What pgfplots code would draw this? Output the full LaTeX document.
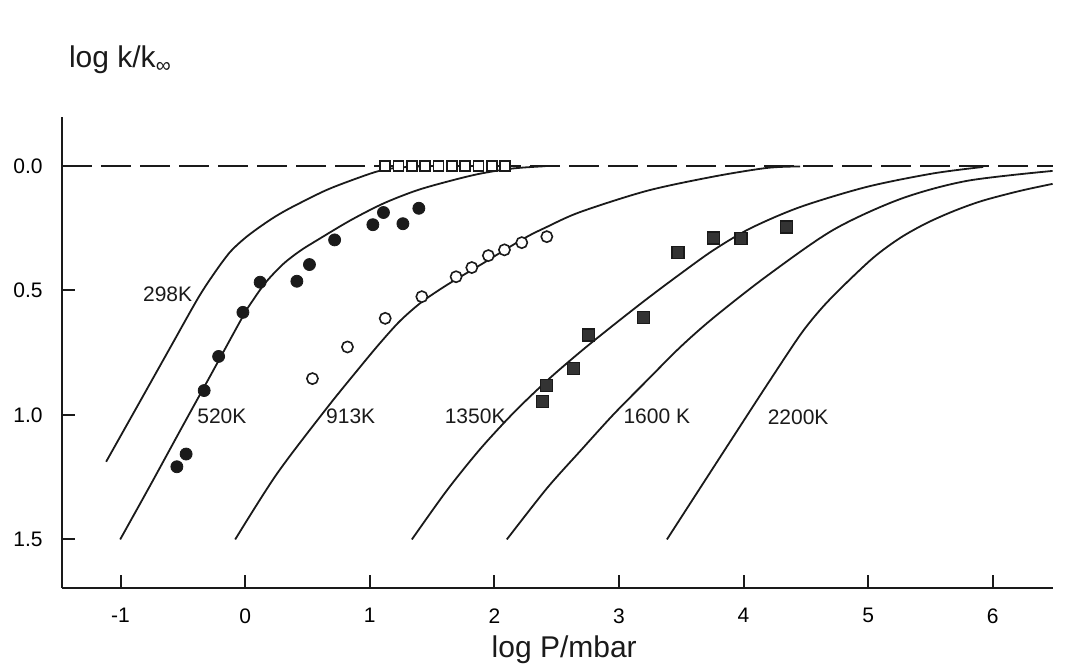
\documentclass[border=0pt]{standalone}
\usepackage{fontspec}
\setmainfont{Liberation Sans}
\usepackage{pgfplots}
\pgfplotsset{compat=1.18}
\definecolor{ink}{HTML}{1A1A1A}
\definecolor{sqfill}{HTML}{333333}
\begin{document}
\begin{tikzpicture}
\useasboundingbox (-31pt,-41pt) rectangle (502pt,294pt);
\begin{axis}[
  x=62.3pt, y=124.5pt,
  xmin=-1.47, xmax=6.48, ymin=-1.695, ymax=0.197,
  axis x line*=bottom, axis y line*=left,
  axis line style={line width=1.3pt, ink, -},
  xtick={-1,0,1,2,3,4,5,6}, xticklabels={-1,0,1,2,3,4,5,6},
  ytick={0,-0.5,-1,-1.5}, yticklabels={0.0,0.5,1.0,1.5},
  tick align=inside, major tick length=6.5pt,
  tick style={line width=1pt, ink},
  xticklabel style={inner sep=0pt, anchor=north, yshift=-10pt, font=\fontsize{10.5}{12}\selectfont},
  yticklabel style={inner sep=0pt, anchor=east, xshift=-9.5pt, font=\fontsize{10.5}{12}\selectfont},
  clip=false,
]
% dashed high-pressure limit
\addplot[ink, line width=1.2pt, dash pattern=on 15pt off 4.5pt] coordinates {(-1.47,0) (6.48,0)};
% fall-off curves
% 298 K
\addplot[ink, line width=0.9pt, smooth] coordinates {
(-1.116,-1.188) (-0.843,-0.945) (-0.602,-0.730) (-0.377,-0.530) (-0.241,-0.426)
(-0.120,-0.345) (0.000,-0.289) (0.120,-0.244) (0.249,-0.201) (0.385,-0.163)
(0.656,-0.096) (0.923,-0.045) (1.083,-0.019) (1.244,-0.006) (1.485,-0.001)};
% 520 K
\addplot[ink, line width=0.9pt, smooth] coordinates {
(-1.003,-1.500) (-0.762,-1.283) (-0.522,-1.063) (-0.281,-0.844) (-0.016,-0.602)
(0.040,-0.556) (0.161,-0.470) (0.305,-0.394) (0.441,-0.341) (0.575,-0.299)
(0.843,-0.219) (1.108,-0.151) (1.378,-0.098) (1.645,-0.060) (1.886,-0.031)
(2.151,-0.010) (2.408,-0.001)};
% 913 K
\addplot[ink, line width=0.9pt, smooth] coordinates {
(-0.080,-1.500) (0.254,-1.237) (0.656,-0.972) (0.923,-0.807) (1.083,-0.711)
(1.244,-0.622) (1.418,-0.546) (1.619,-0.478) (1.886,-0.398) (2.231,-0.293)
(2.421,-0.245) (2.689,-0.185) (3.224,-0.100) (3.756,-0.043) (4.187,-0.008) (4.454,-0.002)};
% 1350 K
\addplot[ink, line width=0.9pt, smooth] coordinates {
(1.338,-1.500) (1.619,-1.303) (1.886,-1.137) (2.153,-0.992) (2.421,-0.863)
(2.689,-0.747) (2.956,-0.639) (3.224,-0.534) (3.491,-0.434) (3.756,-0.339)
(4.053,-0.251) (4.454,-0.165) (4.990,-0.084) (5.522,-0.030) (5.923,-0.004)};
% 1600 K
\addplot[ink, line width=0.9pt, smooth] coordinates {
(2.100,-1.500) (2.421,-1.295) (2.689,-1.145) (2.956,-0.998) (3.224,-0.862)
(3.491,-0.728) (3.758,-0.610) (4.187,-0.442) (4.719,-0.257) (5.257,-0.133)
(5.792,-0.060) (6.480,-0.020)};
% 2200 K
\addplot[ink, line width=0.9pt, smooth] coordinates {
(3.385,-1.500) (3.652,-1.293) (3.917,-1.088) (4.187,-0.880) (4.454,-0.679)
(4.615,-0.578) (4.775,-0.494) (5.040,-0.369) (5.257,-0.289) (5.471,-0.229)
(5.698,-0.179) (5.923,-0.139) (6.220,-0.100) (6.480,-0.072)};
% 298 K: open squares
\addplot[only marks, mark=square*, mark size=2.5pt, mark options={draw=ink, fill=white, line width=0.8pt}] coordinates {
(1.124,0) (1.232,0) (1.340,0) (1.445,0) (1.553,0) (1.661,0) (1.766,0) (1.874,0) (1.982,0) (2.087,0)};
% 520 K: filled circles
\addplot[only marks, mark=*, mark size=3pt, mark options={draw=ink, fill=ink}] coordinates {
(-0.548,-1.208) (-0.474,-1.157) (-0.329,-0.902) (-0.213,-0.765) (-0.018,-0.588)
(0.120,-0.467) (0.415,-0.463) (0.516,-0.396) (0.718,-0.297) (1.025,-0.236)
(1.110,-0.187) (1.266,-0.232) (1.394,-0.170)};
% 913 K: open circles
\addplot[only marks, mark=*, mark size=2.8pt, mark options={draw=ink, fill=white, line width=0.8pt}] coordinates {
(0.540,-0.854) (0.821,-0.727) (1.124,-0.612) (1.418,-0.525) (1.693,-0.445)
(1.819,-0.408) (1.952,-0.360) (2.081,-0.337) (2.220,-0.308) (2.421,-0.284)};
% 1350 K: filled squares
\addplot[only marks, mark=square*, mark size=3pt, mark options={draw=ink, fill=sqfill, line width=0.6pt}] coordinates {
(2.384,-0.947) (2.416,-0.882) (2.635,-0.812) (2.758,-0.679) (3.200,-0.608)
(3.473,-0.347) (3.758,-0.289) (3.979,-0.290) (4.342,-0.245)};
% curve labels
\node[font=\fontsize{10.5}{12}\selectfont, ink] at (axis cs:-0.622,-0.514) {298K};
\node[font=\fontsize{10.5}{12}\selectfont, ink] at (axis cs:-0.187,-1.007) {520K};
\node[font=\fontsize{10.5}{12}\selectfont, ink] at (axis cs:0.847,-1.007) {913K};
\node[font=\fontsize{10.5}{12}\selectfont, ink] at (axis cs:1.846,-1.004) {1350K};
\node[font=\fontsize{10.5}{12}\selectfont, ink] at (axis cs:3.304,-1.004) {1600 K};
\node[font=\fontsize{10.5}{12}\selectfont, ink] at (axis cs:4.438,-1.008) {2200K};
% axis labels
\node[anchor=base west, yshift=24.5pt, font=\fontsize{15}{18}\selectfont, ink] at (axis description cs:0,1) {log k/k\textsubscript{∞}};
\node[anchor=base, yshift=-34.5pt, font=\fontsize{15}{18}\selectfont, ink] at (axis description cs:0.507,0) {log P/mbar};
\end{axis}
\end{tikzpicture}
\end{document}
